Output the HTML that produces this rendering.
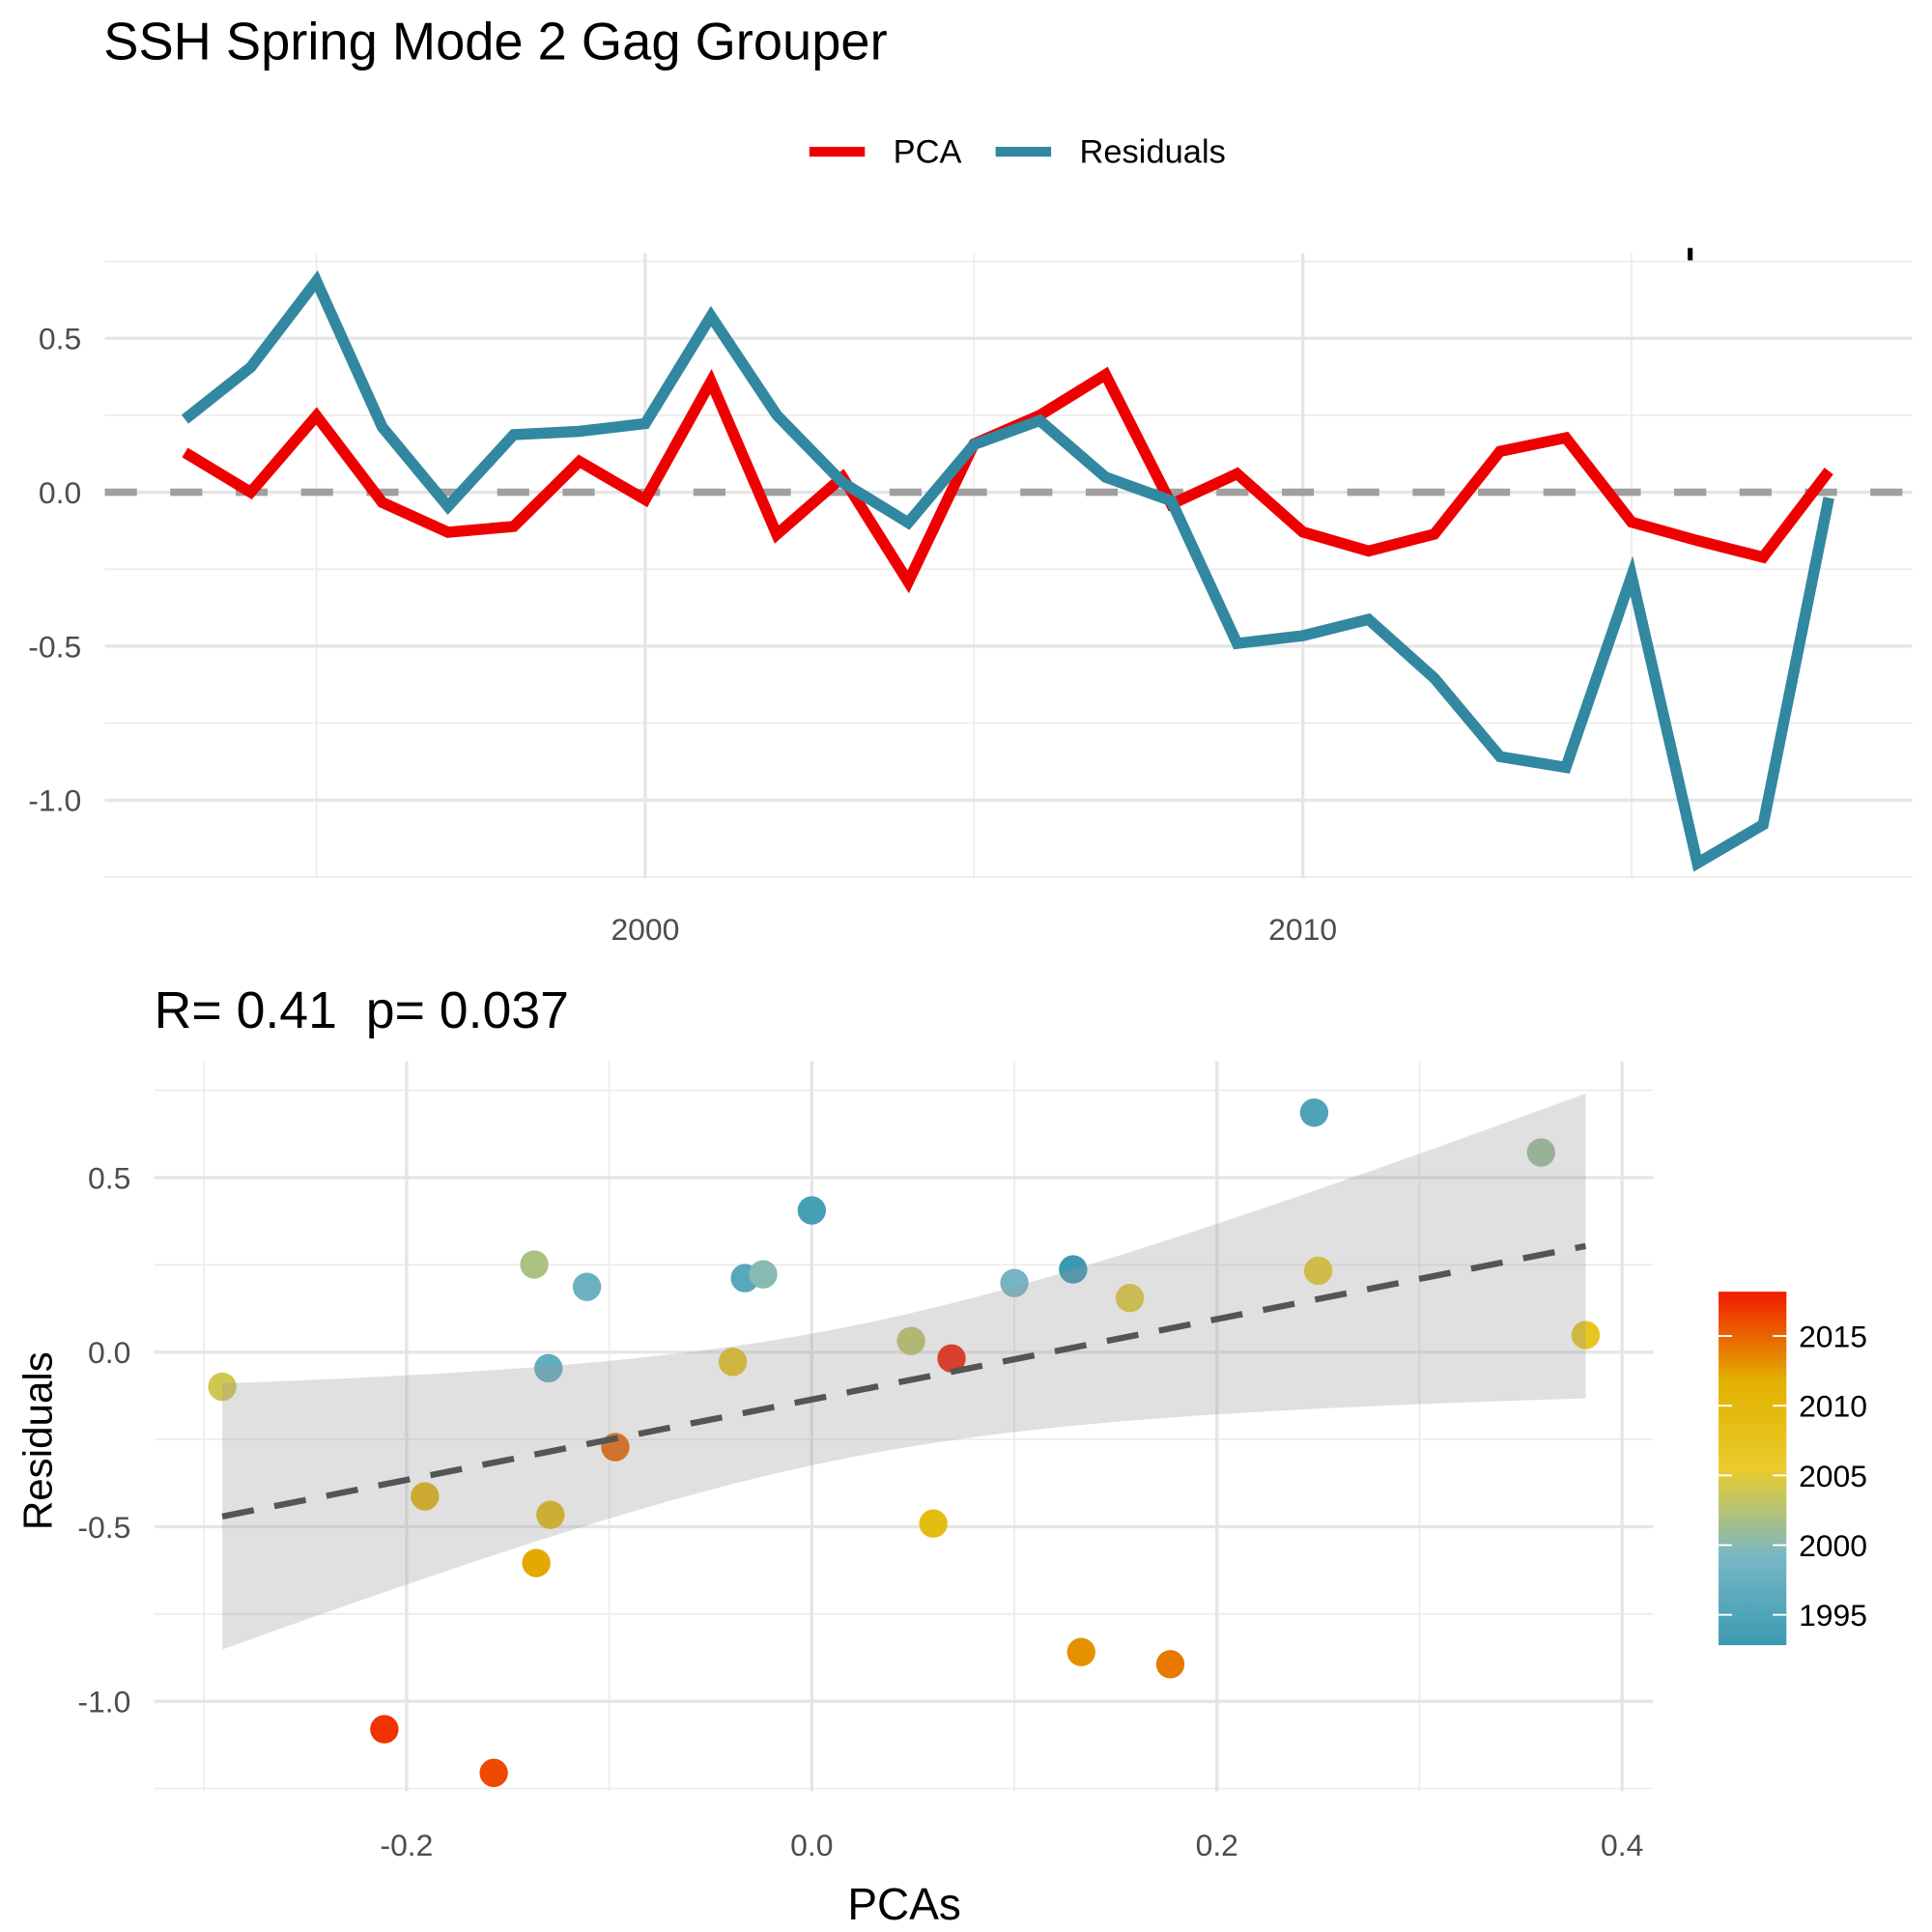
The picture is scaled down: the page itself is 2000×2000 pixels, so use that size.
<!DOCTYPE html>
<html><head><meta charset="utf-8"><style>
html,body{margin:0;padding:0;background:#fff;}
svg{display:block;font-family:"Liberation Sans",Arial,sans-serif;}
</style></head><body>
<svg id="chart" width="2000" height="2000" viewBox="0 0 1566 1566" xmlns="http://www.w3.org/2000/svg">
<rect width="1566" height="1566" fill="#fff"/>
<text x="84" y="48" font-size="42.5" fill="#000">SSH Spring Mode 2 Gag Grouper</text>
<g>
<rect x="656" y="119" width="45" height="8" fill="#EE0000"/>
<text x="724" y="132" font-size="27">PCA</text>
<rect x="807" y="119" width="45" height="8" fill="#3288A0"/>
<text x="875" y="132" font-size="27">Residuals</text>
</g>
<g id="topPanel"></g>
<rect x="1368" y="201" width="4" height="10" fill="#000"/>
<text x="125" y="833" font-size="42" fill="#000" xml:space="preserve" style="white-space:pre">R= 0.41  p= 0.037</text>
<g id="botPanel"></g>
<text transform="translate(42,1168) rotate(-90)" text-anchor="middle" font-size="33">Residuals</text>
<text x="733" y="1556" text-anchor="middle" font-size="36">PCAs</text>
<defs><linearGradient id="cb" x1="0" y1="1" x2="0" y2="0">
<stop offset="0" stop-color="#3B9AB2"/><stop offset="0.25" stop-color="#78B7C5"/><stop offset="0.5" stop-color="#EBCC2A"/><stop offset="0.75" stop-color="#E1AF00"/><stop offset="1" stop-color="#F21A00"/></linearGradient></defs>
<g id="cbar"></g>
</svg>
<script>
const years=[1993,1994,1995,1996,1997,1998,1999,2000,2001,2002,2003,2004,2005,2006,2007,2008,2009,2010,2011,2012,2013,2014,2015,2016,2017,2018];
const pca=[0.129,0.0,0.248,-0.033,-0.130,-0.111,0.100,-0.024,0.360,-0.137,0.049,-0.291,0.157,0.250,0.382,-0.039,0.060,-0.129,-0.191,-0.136,0.133,0.177,-0.097,-0.157,-0.211,0.069];
const resid=[0.237,0.406,0.686,0.212,-0.046,0.187,0.198,0.223,0.572,0.251,0.032,-0.099,0.155,0.233,0.049,-0.028,-0.491,-0.466,-0.413,-0.604,-0.859,-0.894,-0.272,-1.205,-1.080,-0.018];
const topYTicks=[0.5,0.0,-0.5,-1.0];
const topXTicks=[2000,2010];
const botXTicks=[-0.2,0.0,0.2,0.4];
const botYTicks=[0.5,0.0,-0.5,-1.0];
const cbTicks=[1995,2000,2005,2010,2015];
const NS="http://www.w3.org/2000/svg";
function mk(p,tag,at){const e=document.createElementNS(NS,tag);for(const k in at)e.setAttribute(k,at[k]);p.appendChild(e);return e;}
const tx=y=>523+(y-2000)*53.3, ty=v=>399-v*249.5;
const tp=document.getElementById('topPanel');
[-1.25,-0.75,-0.25,0.25,0.75].forEach(v=>{const l=mk(tp,'line',{x1:85,x2:1550,y1:ty(v),y2:ty(v),stroke:'#ebebeb','stroke-width':1.3});

});
[1995,2005,2015].forEach(v=>{const l=mk(tp,'line',{x1:tx(v),x2:tx(v),y1:205,y2:712,stroke:'#ebebeb','stroke-width':1.3});

});
topYTicks.forEach(v=>{const l=mk(tp,'line',{x1:85,x2:1550,y1:ty(v),y2:ty(v),stroke:'#e5e5e5','stroke-width':2.6});


const t=mk(tp,'text',{x:66,y:ty(v)+9,'text-anchor':'end','font-size':25,fill:'#4d4d4d'});t.textContent=v.toFixed(1);

});
topXTicks.forEach(v=>{const l=mk(tp,'line',{x1:tx(v),x2:tx(v),y1:205,y2:712,stroke:'#e5e5e5','stroke-width':2.6});


const t=mk(tp,'text',{x:tx(v),y:762,'text-anchor':'middle','font-size':25,fill:'#4d4d4d'});t.textContent=v;

});
const zl=mk(tp,'line',{x1:85,x2:1550,y1:ty(0),y2:ty(0),stroke:'#a0a0a0','stroke-width':6,'stroke-dasharray':'26 27'});


const pr=mk(tp,'polyline',{points:years.map((y,i)=>tx(y)+','+ty(pca[i])).join(' '),fill:'none',stroke:'#EE0000','stroke-width':9,'stroke-linejoin':'miter'});


const rr=mk(tp,'polyline',{points:years.map((y,i)=>tx(y)+','+ty(resid[i])).join(' '),fill:'none',stroke:'#3288A0','stroke-width':9,'stroke-linejoin':'miter'});


const bx=v=>658+v*1642, by=v=>1096-v*283;
const bt=document.getElementById('botPanel');
[-0.3,-0.1,0.1,0.3].forEach(v=>{const l=mk(bt,'line',{x1:bx(v),x2:bx(v),y1:860,y2:1452,stroke:'#ebebeb','stroke-width':1.3});

});
[0.75,0.25,-0.25,-0.75,-1.25].forEach(v=>{const l=mk(bt,'line',{x1:125,x2:1340,y1:by(v),y2:by(v),stroke:'#ebebeb','stroke-width':1.3});

});
botXTicks.forEach(v=>{const l=mk(bt,'line',{x1:bx(v),x2:bx(v),y1:860,y2:1452,stroke:'#e5e5e5','stroke-width':2.6});


const t=mk(bt,'text',{x:bx(v),y:1504,'text-anchor':'middle','font-size':25,fill:'#4d4d4d'});t.textContent=v.toFixed(1);

});
botYTicks.forEach(v=>{const l=mk(bt,'line',{x1:125,x2:1340,y1:by(v),y2:by(v),stroke:'#e5e5e5','stroke-width':2.6});


const t=mk(bt,'text',{x:106,y:by(v)+9,'text-anchor':'end','font-size':25,fill:'#4d4d4d'});t.textContent=v.toFixed(1);

});
const stops=[[0,[59,154,178]],[0.25,[120,183,197]],[0.5,[235,204,42]],[0.75,[225,175,0]],[1,[242,26,0]]];
function col(t){for(let i=1;i<stops.length;i++){if(t<=stops[i][0]){const a=stops[i-1],b=stops[i],f=(t-a[0])/(b[0]-a[0]);return 'rgb('+a[1].map((c,j)=>Math.round(c+(b[1][j]-c)*f)).join(',')+')';}}return 'rgb(242,26,0)';}
const y0=Math.min(...years),y1=Math.max(...years);
years.forEach((y,i)=>{const c=mk(bt,'circle',{cx:bx(pca[i]),cy:by(resid[i]),r:11.5,fill:col((y-y0)/(y1-y0))});

});
const n=pca.length, mx=pca.reduce((a,b)=>a+b)/n, my=resid.reduce((a,b)=>a+b)/n;
let sxx=0,sxy=0;pca.forEach((x,i)=>{sxx+=(x-mx)**2;sxy+=(x-mx)*(resid[i]-my);});
const b1=sxy/sxx,b0=my-b1*mx;let sse=0;pca.forEach((x,i)=>{sse+=(resid[i]-b0-b1*x)**2;});
const s=Math.sqrt(sse/(n-2)),tc=2.064;
const xmin=Math.min(...pca),xmax=Math.max(...pca);
const up=[],lo=[];
for(let k=0;k<=80;k++){const x=xmin+(xmax-xmin)*k/80,f=b0+b1*x,se=s*Math.sqrt(1/n+(x-mx)**2/sxx);up.push(bx(x)+','+by(f+tc*se));lo.unshift(bx(x)+','+by(f-tc*se));}
const band=mk(bt,'polygon',{points:up.concat(lo).join(' '),fill:'#999','fill-opacity':0.3});


const rl=mk(bt,'line',{x1:bx(xmin),y1:by(b0+b1*xmin),x2:bx(xmax),y2:by(b0+b1*xmax),stroke:'#555','stroke-width':5,'stroke-dasharray':'26 17'});


const cbar=document.getElementById('cbar');
const cyf=y=>1049+(2018-y)*11.3;
const cr=mk(cbar,'rect',{x:1393,y:cyf(2018)-2,width:55,height:cyf(1993)-cyf(2018)+4,fill:'url(#cb)'});


cbTicks.forEach(v=>{mk(cbar,'line',{x1:1393,x2:1404,y1:cyf(v),y2:cyf(v),stroke:'#fff','stroke-width':1.5});mk(cbar,'line',{x1:1437,x2:1448,y1:cyf(v),y2:cyf(v),stroke:'#fff','stroke-width':1.5});
const t=mk(cbar,'text',{x:1458,y:cyf(v)+9,'font-size':25,fill:'#000'});t.textContent=v;

});
</script>
</body></html>
